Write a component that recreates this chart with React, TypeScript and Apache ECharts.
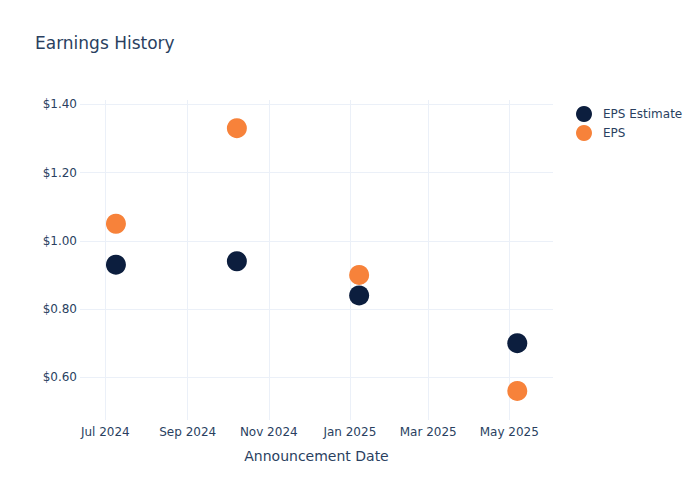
import React, { useEffect, useRef } from "react";
import * as echarts from "echarts";

const announcementDates = ["2024-07-09", "2024-10-08", "2025-01-08", "2025-05-07"];
const epsEstimate = [0.93, 0.94, 0.84, 0.70];
const epsActual = [1.05, 1.33, 0.90, 0.56];
const yTicks = [0.6, 0.8, 1.0, 1.2, 1.4];
const xTickDates = ["2024-07-01", "2024-09-01", "2024-11-01", "2025-01-01", "2025-03-01", "2025-05-01"];
const MONTHS = ["Jan", "Feb", "Mar", "Apr", "May", "Jun", "Jul", "Aug", "Sep", "Oct", "Nov", "Dec"];

const toUtc = (s: string) => {
  const [y, m, d] = s.split("-").map(Number);
  return Date.UTC(y, m - 1, d);
};

const TEXT = "#2a3f5f";
const GRID = "#ebf0f8";
const FONT = "DejaVu Sans";

export default function App() {
  const ref = useRef<HTMLDivElement>(null);
  useEffect(() => {
    if (!ref.current) return;
    const chart = echarts.init(ref.current, undefined, { renderer: "svg" });
    const xTicks = xTickDates.map(toUtc);
    const xMin = Date.UTC(2024, 5, 11, 23, 0);
    const xMax = Date.UTC(2025, 5, 2, 21, 0);
    chart.setOption({
      animation: false,
      backgroundColor: "#ffffff",
      textStyle: { fontFamily: FONT },
      title: {
        text: "Earnings History",
        left: 35,
        top: 34,
        padding: 0,
        textStyle: { fontFamily: FONT, fontSize: 17, fontWeight: "normal", color: TEXT },
      },
      legend: {
        orient: "vertical",
        left: 576,
        top: 106,
        padding: 0,
        itemWidth: 16,
        itemHeight: 16,
        itemGap: 3,
        icon: "circle",
        textStyle: { fontFamily: FONT, fontSize: 12, color: TEXT, padding: [0, 0, 0, 6] },
        data: ["EPS Estimate", "EPS"],
      },
      grid: { left: 80, right: 147, top: 100, bottom: 80, containLabel: false },
      xAxis: {
        type: "value",
        min: xMin,
        max: xMax,
        name: "Announcement Date",
        nameLocation: "middle",
        nameGap: 29,
        nameTextStyle: { fontFamily: FONT, fontSize: 14, color: TEXT },
        axisLine: { show: false },
        axisTick: { show: false, customValues: xTicks },
        axisLabel: {
          customValues: xTicks,
          margin: 6,
          fontFamily: FONT,
          fontSize: 12,
          color: TEXT,
          formatter: (v: number) => {
            const d = new Date(v);
            return `${MONTHS[d.getUTCMonth()]} ${d.getUTCFullYear()}`;
          },
        },
        splitLine: { show: true, lineStyle: { color: GRID, width: 1 } },
      },
      yAxis: {
        type: "value",
        min: 0.4749,
        max: 1.4126,
        axisLine: { show: false },
        axisTick: { show: false, customValues: yTicks },
        axisLabel: {
          customValues: yTicks,
          margin: 3,
          fontFamily: FONT,
          fontSize: 12,
          color: TEXT,
          formatter: (v: number) => `$${v.toFixed(2)}`,
        },
        splitLine: { show: true, lineStyle: { color: GRID, width: 1 } },
      },
      series: [
        {
          name: "EPS Estimate",
          type: "scatter",
          symbol: "circle",
          symbolSize: 20,
          itemStyle: { color: "#0c1e3e", opacity: 1 },
          data: announcementDates.map((d, i) => [toUtc(d), epsEstimate[i]]),
        },
        {
          name: "EPS",
          type: "scatter",
          symbol: "circle",
          symbolSize: 20,
          itemStyle: { color: "#f7823a", opacity: 1 },
          data: announcementDates.map((d, i) => [toUtc(d), epsActual[i]]),
        },
      ],
    });
    return () => chart.dispose();
  }, []);
  return <div ref={ref} style={{ width: 700, height: 500, position: "fixed", left: 0, top: 0 }} />;
}
